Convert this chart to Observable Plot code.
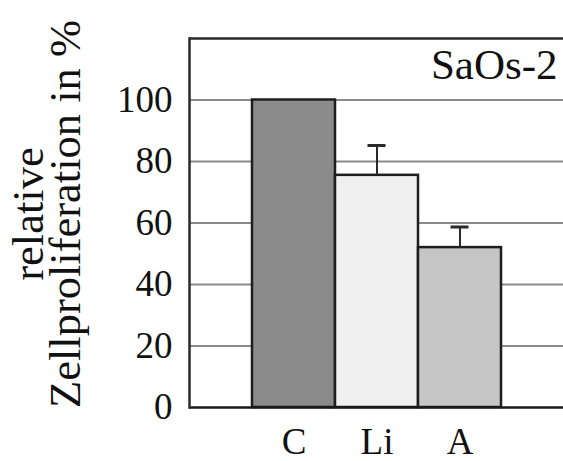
<!DOCTYPE html>
<html>
<head>
<meta charset="utf-8">
<script src="https://cdn.jsdelivr.net/npm/d3@7"></script>
<script src="https://cdn.jsdelivr.net/npm/@observablehq/plot@0.6"></script>
<style>
  html, body { margin: 0; padding: 0; background: #fff; overflow: hidden; }
</style>
</head>
<body>
<div id="chart"></div>
<script>
const categories = ["C", "Li", "A"];
const values = [100, 75.5, 52];
const errors = [0, 9.7, 6.7];
const fills = ["#8b8b8b", "#f0f0f0", "#c6c6c6"];
const yTicks = [0, 20, 40, 60, 80, 100];
const gridValues = [20, 40, 60, 80, 100];
const panelLabel = "SaOs-2";
const yLabel = "relative\nZellproliferation in %";

const data = categories.map((c, i) => ({cat: c, value: values[i], err: errors[i], fill: fills[i]}));
const errData = data.filter(d => d.err > 0);

const chart = Plot.plot({
  width: 563,
  height: 461,
  marginLeft: 189,
  marginTop: 38,
  marginBottom: 54,
  marginRight: 0,
  style: "font-family:'Liberation Serif'",
  x: {domain: categories, paddingInner: 0, paddingOuter: 0.74, align: 0.5},
  y: {domain: [0, 120]},
  marks: [
    Plot.ruleY(gridValues, {stroke: "#8a8a8a", strokeWidth: 2}),
    Plot.barY(data, {x: "cat", y: "value", fill: "fill", stroke: "#1e1e1e", strokeWidth: 2.5}),
    Plot.ruleX(errData, {x: "cat", y1: "value", y2: d => d.value + d.err, stroke: "#2a2a2a", strokeWidth: 2}),
    Plot.tickY(errData, {x: "cat", y: d => d.value + d.err, stroke: "#2a2a2a", strokeWidth: 3, inset: 32.5}),
    Plot.ruleY([0], {stroke: "#1a1a1a", strokeWidth: 2.5}),
    Plot.ruleY([120], {stroke: "#2a2a2a", strokeWidth: 2.5}),
    Plot.frame({anchor: "left", stroke: "#2a2a2a", strokeWidth: 2.5}),
    Plot.axisY({ticks: yTicks, tickSize: 0, tickPadding: 17, fontSize: 37, label: null, fill: "#111"}),
    Plot.axisX({tickSize: 0, tickPadding: 20, fontSize: 37, label: null, fill: "#111"}),
    Plot.text([panelLabel], {frameAnchor: "top-right", textAnchor: "end", lineAnchor: "middle", dx: -6, dy: 27, fontSize: 43, fill: "#111"}),
    Plot.text([yLabel], {frameAnchor: "left", rotate: -90, lineAnchor: "middle", textAnchor: "middle", dx: -140, dy: -9, fontSize: 44.5, lineHeight: 0.84, fill: "#111"})
  ]
});
d3.select(chart).selectAll("text").style("font-family", "'Liberation Serif'");
document.getElementById("chart").appendChild(chart);
</script>
</body>
</html>
